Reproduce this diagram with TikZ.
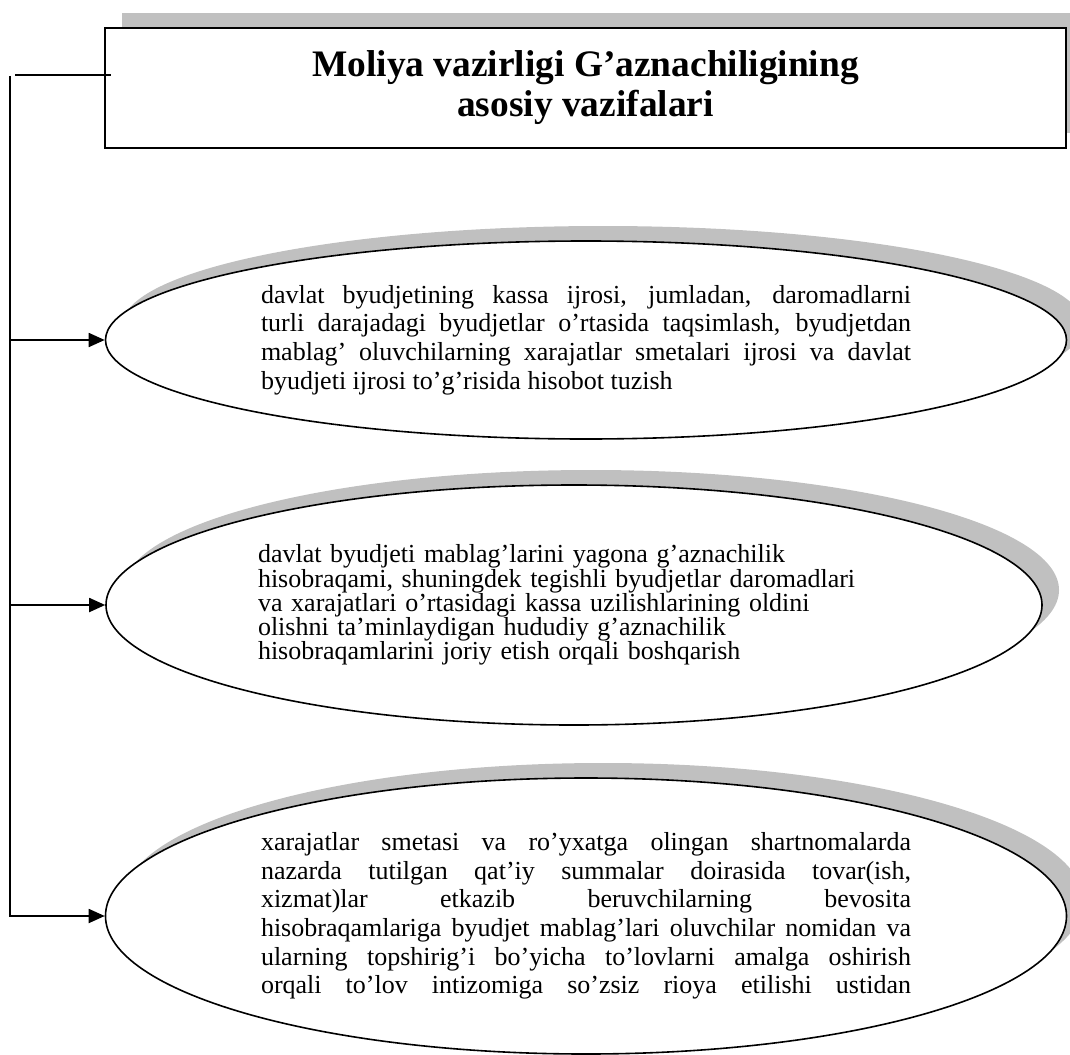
\documentclass[tikz,border=0pt]{standalone}
\usepackage{fontspec}
\setmainfont{Liberation Serif}
\usetikzlibrary{arrows.meta,shapes.geometric,shadows,calc}
\definecolor{Ink}{HTML}{000000}
\definecolor{Shade}{HTML}{C0C0C0}
\lineskiplimit=-6pt

\begin{document}
\begin{tikzpicture}[x=0.5pt,y=-0.5pt,>={Triangle[length=8pt,width=7pt]},
  backdrop/.style={general shadow={shadow xshift=8.5pt,shadow yshift=7.5pt,fill=Shade,draw=none,opacity=1}},
  headbox/.style={draw=Ink,fill=white,line width=1pt,minimum width=480.5pt,minimum height=60pt,inner sep=0pt,align=center,font=\fontsize{18.7}{20}\selectfont\bfseries,backdrop},
  task/.style={ellipse,draw=Ink,fill=white,line width=0.8pt,inner sep=0pt,font=\fontsize{13}{14.3}\selectfont,backdrop},
  link/.style={Ink,line width=0.9pt}]
\useasboundingbox (0,0) rectangle (1070,1054);
\node[headbox] (head) at (585.5,88) {Moliya vazirligi G’aznachiligining\\asosiy vazifalari};
\node[task,minimum width=480.5pt,minimum height=99pt,text width=325pt,align=justify] (e1) at (586,340) {davlat byudjetining kassa ijrosi, jumladan, daromadlarni\linebreak turli darajadagi byudjetlar o’rtasida taqsimlash, byudjetdan\linebreak mablag’ oluvchilarning xarajatlar smetalari ijrosi va davlat\linebreak byudjeti ijrosi to’g’risida hisobot tuzish};
\node[task,minimum width=468pt,minimum height=120pt,text width=316pt,align=left,font=\fontsize{13}{12.1}\selectfont] (e2) at (574,605) {davlat byudjeti mablag’larini yagona g’aznachilik\\hisobraqami, shuningdek tegishli byudjetlar daromadlari\\va xarajatlari o’rtasidagi kassa uzilishlarining oldini\\olishni ta’minlaydigan hududiy g’aznachilik\\hisobraqamlarini joriy etish orqali boshqarish};
\node[task,minimum width=480.5pt,minimum height=138pt,text width=325pt,align=justify] (e3) at (586,916) {\parfillskip=0pt\relax xarajatlar smetasi va ro’yxatga olingan shartnomalarda\linebreak nazarda tutilgan qat’iy summalar doirasida tovar(ish,\linebreak xizmat)lar etkazib beruvchilarning bevosita\linebreak hisobraqamlariga byudjet mablag’lari oluvchilar nomidan va\linebreak ularning topshirig’i bo’yicha to’lovlarni amalga oshirish\linebreak orqali to’lov intizomiga so’zsiz rioya etilishi ustidan\par};
\coordinate (spine) at (10,76);
\coordinate (hook) at (15,75);
\draw[link] (hook) -- ([xshift=3.5pt]head.west |- hook);
\draw[link,->] (spine) -- (spine |- e3.west) -- (e3.west);
\draw[link,->] (spine |- e1.west) -- (e1.west);
\draw[link,->] (spine |- e2.west) -- (e2.west);
\end{tikzpicture}
\end{document}
